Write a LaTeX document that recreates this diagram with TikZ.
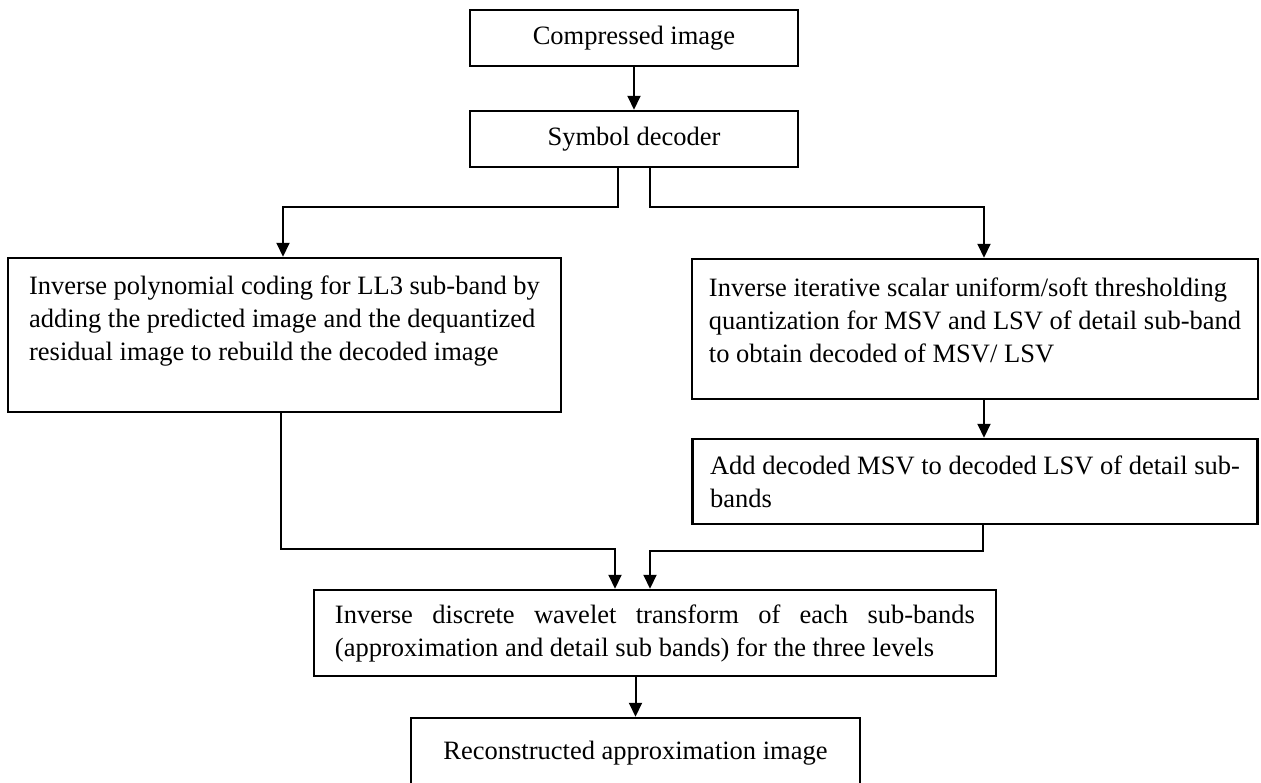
\documentclass[tikz,border=0pt]{standalone}
\usepackage{fontspec}
\setmainfont{Liberation Serif}
\usetikzlibrary{arrows.meta}

\begin{document}
\begin{tikzpicture}[x=0.4pt,y=-0.4pt,
  box/.style={draw=black,line width=1pt,inner xsep=8.4pt,align=left,
    font=\fontsize{10.6pt}{13.2pt}\selectfont},
  arr/.style={line width=0.8pt,-{Triangle[length=5.6pt,width=5.2pt]}}]
  \useasboundingbox (0,0) rectangle (1261,782);
  \clip (0,0) rectangle (1261,782);

  \node[box,minimum width=131.2pt,minimum height=22.4pt] (a) at (634,38) {Compressed image};
  \node[box,minimum width=131.2pt,minimum height=22.4pt] (b) at (634,139) {Symbol decoder};
  \node[box,minimum width=221.2pt,minimum height=61.6pt] (c) at (284.5,335)
    {Inverse polynomial coding for LL3 sub-band by\\ adding the predicted image and the dequantized\\ residual image to rebuild the decoded image\\ \mbox{}};
  \node[box,inner xsep=6.8pt,minimum width=226pt,minimum height=56pt] (d) at (975,329)
    {Inverse iterative scalar uniform/soft thresholding\\ quantization for MSV and LSV of detail sub-band\\ to obtain decoded of MSV/ LSV\\[-6pt] \mbox{}};
  \node[box,inner xsep=6.8pt,minimum width=226pt,minimum height=34pt] (e) at (975,481.5)
    {Add decoded MSV to decoded LSV of detail sub-\\ bands};
  \node[box,minimum width=272.8pt,minimum height=34.4pt] (f) at (655,633)
    {\makebox[256pt][s]{Inverse discrete wavelet transform of each sub-bands}\\ (approximation and detail sub bands) for the three levels};
  \node[box,minimum width=179.6pt,minimum height=28pt] (g) at (635.5,753) {Reconstructed approximation image};

  \draw[arr] (a) -- (b);
  \draw[arr] ([shift={(-16,0)}]b.south) -- ++(0,39) -| ([shift={(-1.5,0)}]c.north);
  \draw[arr] ([shift={(16,0)}]b.south) -- ++(0,39) -| ([shift={(9,0)}]d.north);
  \draw[arr] ([shift={(9,0)}]d.south) -- ([shift={(9,0)}]e.north);
  \draw[arr] ([shift={(-3.5,0)}]c.south) -- ++(0,136) -| ([shift={(-40,0)}]f.north);
  \draw[arr] ([shift={(8,0)}]e.south) -- ++(0,26) -| ([shift={(-5,0)}]f.north);
  \draw[arr] (f.south -| g.north) -- (g.north);
\end{tikzpicture}
\end{document}
